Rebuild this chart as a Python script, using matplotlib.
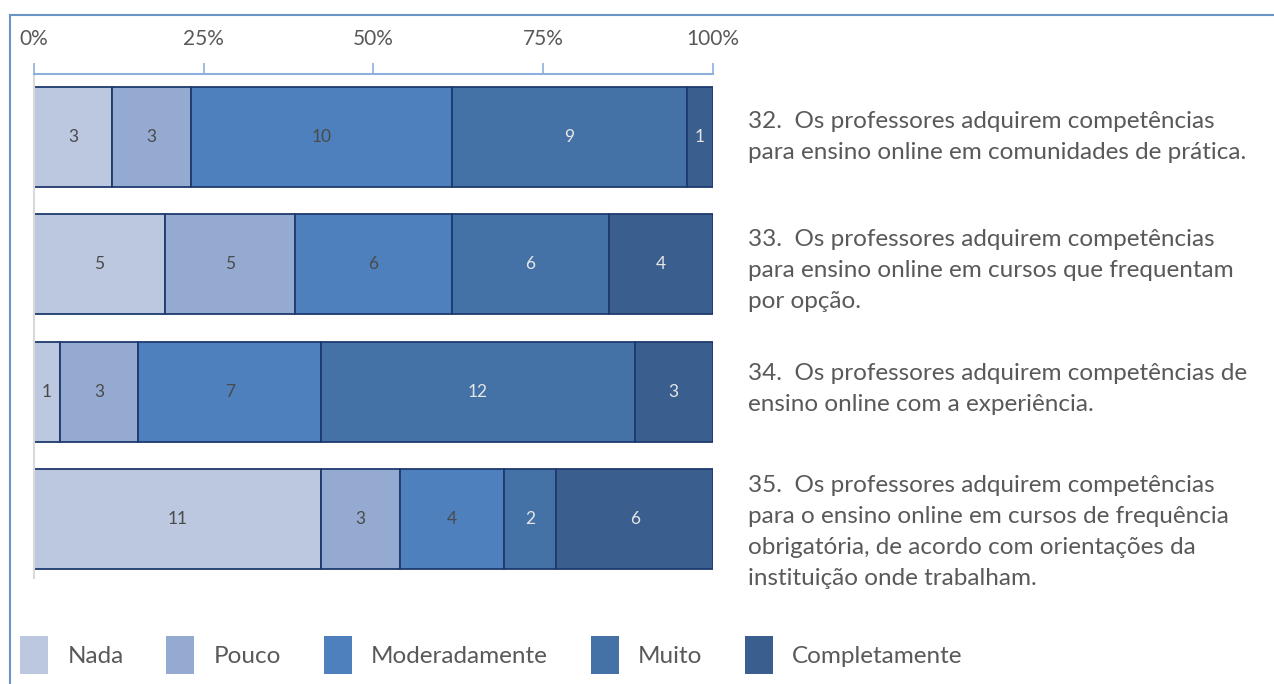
import matplotlib
matplotlib.use("Agg")
import matplotlib.pyplot as plt
import matplotlib.transforms as mtransforms
from matplotlib.lines import Line2D
from matplotlib.patches import Patch
import numpy as np

plt.rcParams['font.family'] = ['Lato', 'DejaVu Sans']

# data
categories = ["Nada", "Pouco", "Moderadamente", "Muito", "Completamente"]
questions = [
    "32.  Os professores adquirem competências\npara ensino online em comunidades de prática.",
    "33.  Os professores adquirem competências\npara ensino online em cursos que frequentam\npor opção.",
    "34.  Os professores adquirem competências de\nensino online com a experiência.",
    "35.  Os professores adquirem competências\npara o ensino online em cursos de frequência\nobrigatória, de acordo com orientações da\ninstituição onde trabalham.",
]
nada = [3, 5, 1, 11]
pouco = [3, 5, 3, 3]
moderadamente = [10, 6, 7, 4]
muito = [9, 6, 12, 2]
completamente = [1, 4, 3, 6]
xticklabels = ["0%", "25%", "50%", "75%", "100%"]

colors = ["#BBC8E0", "#95AAD1", "#4E80BD", "#4472A7", "#3A5E8E"]
label_colors = ["#4A4A4A", "#4A4A4A", "#4A4A4A", "#E6E6E6", "#E6E6E6"]
edge = "#1F3A6E"

counts = np.array([nada, pouco, moderadamente, muito, completamente], dtype=float)
totals = counts.sum(axis=0)
shares = counts / totals * 100

fig = plt.figure(figsize=(12.74, 6.84), dpi=100)
ax = fig.add_axes([34 / 1274, 1 - 578 / 684, 679 / 1274, 504 / 684])

y = np.arange(len(questions))
left = np.zeros(len(questions))
for i, cat in enumerate(categories):
    ax.barh(y, shares[i], left=left, height=0.785, color=colors[i],
            edgecolor=edge, linewidth=1.3, label=cat)
    for j in range(len(questions)):
        ax.text(left[j] + shares[i][j] / 2, y[j], str(int(counts[i][j])),
                ha='center', va='center', fontsize=12.5, color=label_colors[i])
    left += shares[i]

ax.set_xlim(0, 100)
ax.set_ylim(3.46, -0.494)
ax.set_yticks([])
ax.xaxis.tick_top()
ax.set_xticks([0, 25, 50, 75, 100])
ax.set_xticklabels(xticklabels, fontsize=15, color="#595959")
ax.tick_params(axis='x', direction='out', length=8, width=1.2, color="#8DB0DC", pad=10)
ax.spines['top'].set_color("#8DB0DC")
ax.spines['top'].set_linewidth(1.5)
ax.spines['left'].set_color("#D9D9D9")
ax.spines['left'].set_linewidth(1.5)
ax.spines['right'].set_visible(False)
ax.spines['bottom'].set_visible(False)

# question texts on the right
trans = mtransforms.blended_transform_factory(fig.transFigure, ax.transData)
text_shift = [0.0, 0.05, -0.02, 0.1]
for j, q in enumerate(questions):
    ax.text(748 / 1274, y[j] + text_shift[j], q, transform=trans, ha='left', va='center',
            fontsize=17.5, color="#595959", linespacing=1.58)

# legend
handles = [Patch(facecolor=c, edgecolor='none') for c in colors]
fig.legend(handles, categories, loc='center left', bbox_to_anchor=(0.0083, 1 - 655 / 684),
           borderaxespad=0, ncol=5, frameon=False, fontsize=17.5, labelcolor="#595959",
           handlelength=1.15, handleheight=2.0, handletextpad=0.8, columnspacing=1.75)

# outer frame (left and top edges)
fig.add_artist(Line2D([10 / 1274, 10 / 1274], [0, 1 - 15 / 684], color="#6A93C8", lw=1.5))
fig.add_artist(Line2D([10 / 1274, 1], [1 - 15 / 684, 1 - 15 / 684], color="#6A93C8", lw=1.5))

fig.savefig("out.png", dpi=100)
